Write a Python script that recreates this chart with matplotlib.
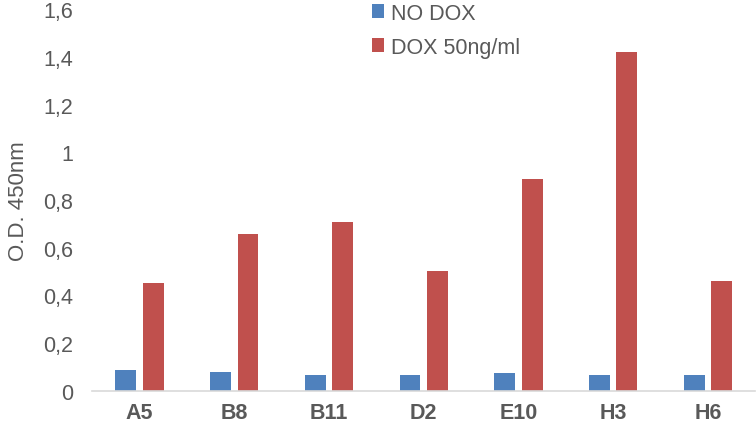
import matplotlib.pyplot as plt
import numpy as np

samples = ["A5", "B8", "B11", "D2", "E10", "H3", "H6"]
no_dox = [0.088, 0.076, 0.064, 0.067, 0.073, 0.067, 0.064]
dox_50 = [0.451, 0.657, 0.708, 0.50, 0.889, 1.42, 0.46]
yticks = [0, 0.2, 0.4, 0.6, 0.8, 1.0, 1.2, 1.4, 1.6]
ytick_labels = ["0", "0,2", "0,4", "0,6", "0,8", "1", "1,2", "1,4", "1,6"]

plt.rcParams['font.family'] = ['Liberation Sans', 'DejaVu Sans']

fig = plt.figure(figsize=(7.56, 4.27), dpi=100)
ax = fig.add_axes([0.122, 0.083, 0.877, 0.893])

x = np.arange(len(samples))
w = 0.22
ax.bar(x - 0.145, no_dox, w, color='#4F81BD', label='NO DOX')
ax.bar(x + 0.145, dox_50, w, color='#C0504D', label='DOX 50ng/ml')

ax.set_xlim(-0.5, len(samples) - 0.5)
ax.set_ylim(0, 1.6)
ax.set_yticks(yticks)
ax.set_yticklabels(ytick_labels)
ax.set_xticks(x)
ax.set_xticklabels(samples, fontweight='bold')

for s in ['top', 'right', 'left']:
    ax.spines[s].set_visible(False)
ax.spines['bottom'].set_color('#d9d9d9')
ax.spines['bottom'].set_linewidth(1.2)

ax.tick_params(axis='y', length=0, pad=14, labelsize=15.5, labelcolor='#595959')
ax.tick_params(axis='x', length=0, pad=8, labelsize=15.5, labelcolor='#595959')
ax.set_ylabel('O.D. 450nm', fontsize=16, color='#595959', labelpad=10)

leg = ax.legend(loc='upper left', bbox_to_anchor=(0.392, 1.068), frameon=False,
                fontsize=15.5, handlelength=0.6, handleheight=0.6,
                handletextpad=0.3, labelspacing=0.6, labelcolor='#595959')

fig.savefig('out.png', dpi=100)
